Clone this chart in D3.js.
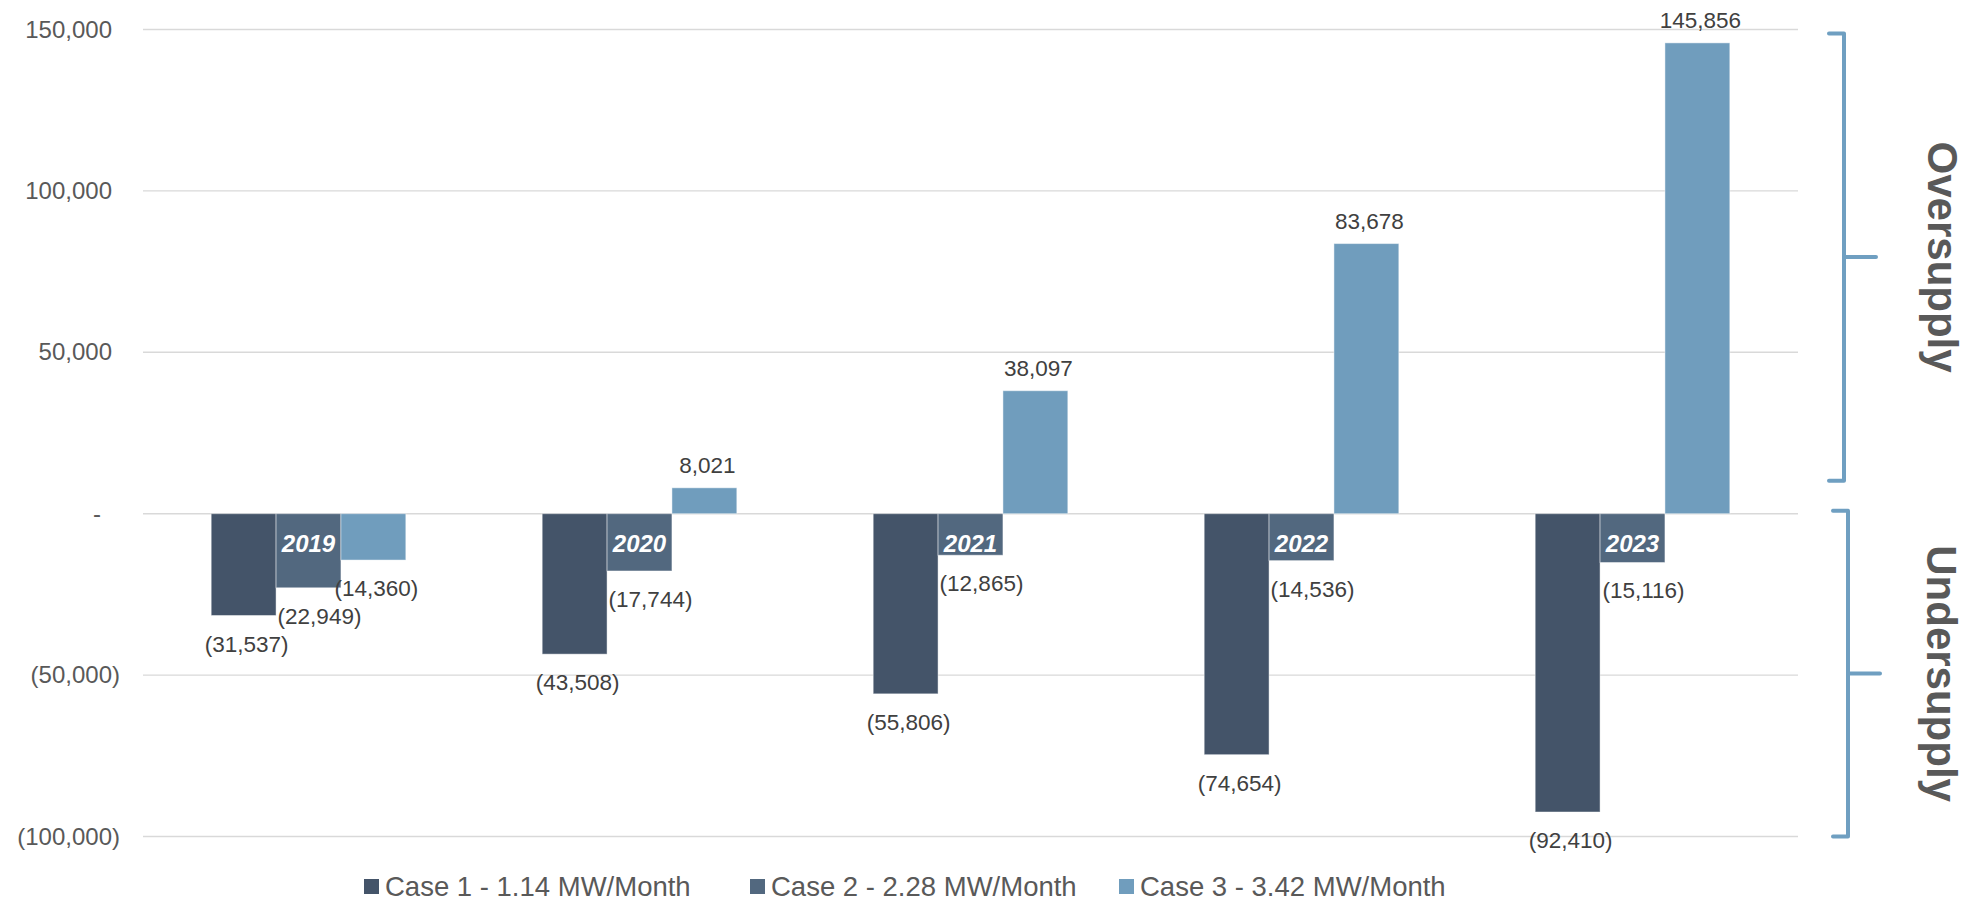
<!DOCTYPE html>
<html>
<head>
<meta charset="utf-8">
<script src="https://d3js.org/d3.v7.min.js"></script>
<style>
  body { margin: 0; background: #fff; }
  text { font-family: "Liberation Sans", Arial, sans-serif; }
</style>
</head>
<body>
<div id="svg-container"></div>
<script>
// chart data
const years = ["2019", "2020", "2021", "2022", "2023"];
const cases = ["Case 1 - 1.14 MW/Month", "Case 2 - 2.28 MW/Month", "Case 3 - 3.42 MW/Month"];
const case1 = [-31537, -43508, -55806, -74654, -92410];
const case2 = [-22949, -17744, -12865, -14536, -15116];
const case3 = [-14360, 8021, 38097, 83678, 145856];
const yTicks = [-100000, -50000, 0, 50000, 100000, 150000];
const colors = ["#445469", "#52687f", "#709dbd"];

const width = 1972;
const height = 902;

const series = [case1, case2, case3];
// flat table for the bars
const rows = [];
years.forEach((yr, i) => {
  cases.forEach((c, j) => rows.push({year: yr, key: c, idx: j, value: series[j][i]}));
});

const svg = d3.select("#svg-container")
  .append("svg")
  .attr("width", width)
  .attr("height", height)
  .attr("viewBox", [0, 0, width, height]);

const x0 = d3.scaleBand()
  .domain(years)
  .range([143, 1798])
  .paddingInner(0.412)
  .paddingOuter(0.206);

const x1 = d3.scaleBand()
  .domain(cases)
  .range([0, x0.bandwidth()]);

const y = d3.scaleLinear()
  .domain([-100000, 150000])
  .range([836.5, 29.5]);

const num = d3.format(",");
const fmt = v => v < 0 ? "(" + num(-v) + ")" : num(v);
const tickFmt = v => v === 0 ? "-" : fmt(v);

// gridlines + y labels
const yAxis = svg.append("g")
  .attr("transform", "translate(120,0)")
  .call(d3.axisLeft(y).tickValues(yTicks).tickFormat(tickFmt).tickSize(0).tickPadding(0));
yAxis.select(".domain").remove();
yAxis.selectAll("text")
  .attr("font-size", 24)
  .attr("fill", "#595959")
  .attr("font-family", "'Liberation Sans', Arial, sans-serif")
  .attr("dx", d => d > 0 ? -8 : (d === 0 ? -19 : 0));

svg.append("g")
  .selectAll("line")
  .data(yTicks)
  .enter().append("line")
    .attr("x1", 143)
    .attr("x2", 1798)
    .attr("y1", d => y(d))
    .attr("y2", d => y(d))
    .attr("stroke", "#d9d9d9")
    .attr("stroke-width", 1.4);

// bars
const groups = svg.append("g")
  .selectAll("g")
  .data(rows)
  .enter().append("g")
    .attr("transform", d => `translate(${x0(d.year) + x1(d.key)},0)`);

groups.append("rect")
  .attr("x", 0)
  .attr("width", x1.bandwidth())
  .attr("y", d => Math.min(y(0), y(d.value)))
  .attr("height", d => Math.abs(y(d.value) - y(0)))
  .attr("fill", d => colors[d.idx])
  .attr("stroke", "#fff")
  .attr("stroke-opacity", 0.45)
  .attr("stroke-width", 1);

// value labels (case 2 labels sit a little to the right)
groups.append("text")
  .attr("x", d => x1.bandwidth() / 2 + (d.idx === 1 ? 11 : 3))
  .attr("y", d => d.value < 0 ? y(d.value) + 36 : y(d.value) - 15)
  .attr("text-anchor", "middle")
  .attr("font-size", 22.5)
  .attr("fill", "#404040")
  .text(d => fmt(d.value));

// year labels on the middle bar
svg.append("g")
  .selectAll("text")
  .data(years)
  .enter().append("text")
    .attr("x", d => x0(d) + x0.bandwidth() / 2)
    .attr("y", 552)
    .attr("text-anchor", "middle")
    .attr("font-size", 24)
    .attr("font-weight", "bold")
    .attr("font-style", "italic")
    .attr("fill", "#fff")
    .text(d => d);

// brackets on the right
const brackets = [
  {label: "Oversupply", top: y(150000) + 4, bottom: y(0) - 33, x: 1844, tx: 1928},
  {label: "Undersupply", top: y(0) - 3, bottom: y(-100000), x: 1848, tx: 1927}
];
const br = svg.append("g")
  .selectAll("g")
  .data(brackets)
  .enter().append("g");

br.append("path")
  .attr("d", d => {
    const mid = (d.top + d.bottom) / 2;
    return `M${d.x - 15},${d.top}H${d.x}V${d.bottom}H${d.x - 15}M${d.x},${mid}H${d.x + 32}`;
  })
  .attr("fill", "none")
  .attr("stroke", "#6f9fc1")
  .attr("stroke-width", 4)
  .attr("stroke-linecap", "round")
  .attr("stroke-linejoin", "round");

br.append("text")
  .attr("transform", d => `translate(${d.tx},${(d.top + d.bottom) / 2}) rotate(90)`)
  .attr("text-anchor", "middle")
  .attr("font-size", 42)
  .attr("font-weight", "bold")
  .attr("fill", "#595959")
  .text(d => d.label);

// legend
const legendX = [364, 750, 1119];
const legend = svg.append("g")
  .selectAll("g")
  .data(cases)
  .enter().append("g")
    .attr("transform", (d, i) => `translate(${legendX[i]},879)`);

legend.append("rect")
  .attr("width", 15)
  .attr("height", 15)
  .attr("fill", (d, i) => colors[i]);

legend.append("text")
  .attr("x", 21)
  .attr("y", 17)
  .attr("font-size", 27.5)
  .attr("fill", "#595959")
  .text(d => d);
</script>
</body>
</html>
